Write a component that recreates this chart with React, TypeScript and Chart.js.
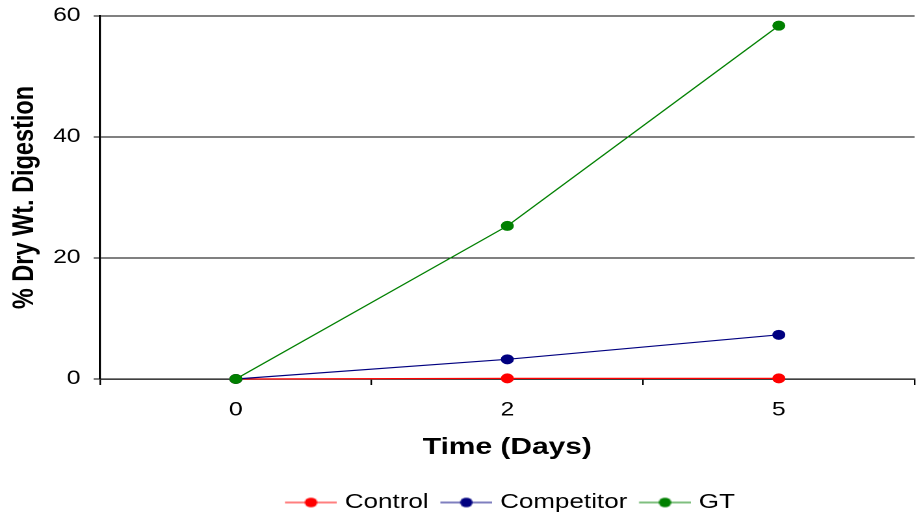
import React, { useEffect, useRef } from "react";
import { Chart, registerables } from "chart.js";

Chart.register(...registerables);

const categories = ["0", "2", "5"];
const controlValues = [0, 0.1, 0.1];
const competitorValues = [0, 3.25, 7.3];
const gtValues = [0, 25.3, 58.4];
const yTickValues = [0, 20, 40, 60];

const seriesNames = ["Control", "Competitor", "GT"];
const seriesColors = ["#FF0000", "#000080", "#008000"];

const xTitle = "Time (Days)";
const yTitle = "% Dry Wt. Digestion";

const SX = 1.3;
const CANVAS_W = 709;
const CANVAS_H = 514;
const FONT = "'Liberation Sans', Arial, sans-serif";

function makeMarker(color: string): HTMLCanvasElement {
  const c = document.createElement("canvas");
  c.width = 48;
  c.height = 12;
  const ctx = c.getContext("2d")!;
  ctx.strokeStyle = color;
  ctx.lineWidth = 1.2;
  ctx.beginPath();
  ctx.moveTo(8, 6);
  ctx.lineTo(48, 6);
  ctx.stroke();
  ctx.fillStyle = color;
  ctx.beginPath();
  ctx.arc(28, 6, 4.8, 0, Math.PI * 2);
  ctx.fill();
  return c;
}

export default function App() {
  const ref = useRef<HTMLCanvasElement | null>(null);

  useEffect(() => {
    if (!ref.current) return;
    const seriesData = [controlValues, competitorValues, gtValues];
    const markers = seriesColors.map((c) => makeMarker(c));
    const chart = new Chart(ref.current, {
      type: "line",
      data: {
        labels: categories,
        datasets: seriesNames.map((name, i) => ({
          label: name,
          data: seriesData[i],
          borderColor: seriesColors[i],
          backgroundColor: seriesColors[i],
          pointBackgroundColor: seriesColors[i],
          pointBorderColor: seriesColors[i],
          borderWidth: 1.2,
          pointRadius: 4.5,
          pointBorderWidth: 1,
          tension: 0,
          fill: false,
          clip: false as any,
          order: 3 - i,
        })),
      },
      options: {
        animation: false,
        responsive: true,
        maintainAspectRatio: false,
        devicePixelRatio: 2,
        events: [],
        layout: { padding: { top: 16, left: 0, right: 0, bottom: -8.5 } },
        plugins: {
          tooltip: { enabled: false },
          legend: {
            position: "bottom",
            fullSize: false,
            labels: {
              color: "#000",
              font: { family: FONT, size: 20 },
              usePointStyle: true,
              pointStyleWidth: 40,
              padding: 5,
              sort: (a: any, b: any) => a.datasetIndex - b.datasetIndex,
              generateLabels: (ch: any) => {
                const items = Chart.defaults.plugins.legend.labels.generateLabels(ch);
                return items.map((it: any) => ({
                  ...it,
                  pointStyle: markers[it.datasetIndex],
                  fontColor: "#000",
                }));
              },
            },
          },
        },
        scales: {
          x: {
            type: "category",
            offset: true,
            grid: {
              offset: true,
              drawOnChartArea: false,
              drawTicks: true,
              tickLength: 6,
              color: "#000",
              lineWidth: 1.2,
            },
            border: { display: true, color: "#000", width: 1.3 },
            ticks: {
              color: "#000",
              font: { family: FONT, size: 19 },
              padding: 14,
              maxRotation: 0,
            },
            title: {
              display: true,
              text: xTitle,
              color: "#000",
              font: { family: FONT, size: 23, weight: "bold" },
              padding: { top: 0, bottom: 26 },
            },
            afterFit: (s: any) => {
              s.height = 108.5;
            },
          },
          y: {
            min: 0,
            max: 60,
            afterBuildTicks: (s: any) => {
              s.ticks = yTickValues.map((v) => ({ value: v }));
            },
            grid: {
              color: "#000",
              lineWidth: 1,
              drawTicks: true,
              tickLength: 5,
            },
            border: { display: true, color: "#000", width: 1.6 },
            ticks: {
              color: "#000",
              font: { family: FONT, size: 19 },
              padding: 10,
            },
            title: {
              display: true,
              text: yTitle,
              color: "#000",
              font: { family: FONT, size: 23.5, weight: "bold" },
              padding: { top: 5, bottom: 0 },
            },
            afterFit: (s: any) => {
              s.width = 77;
              s.paddingTop = 0;
              s.paddingBottom = 0;
            },
          },
        },
      },
    });
    return () => chart.destroy();
  }, []);

  return (
    <div
      style={{
        position: "fixed",
        left: 0,
        top: 0,
        width: 918,
        height: 514,
        overflow: "hidden",
        background: "#fff",
      }}
    >
      <div
        style={{
          width: CANVAS_W,
          height: CANVAS_H,
          transform: `scaleX(${SX})`,
          transformOrigin: "0 0",
        }}
      >
        <canvas ref={ref} />
      </div>
    </div>
  );
}
